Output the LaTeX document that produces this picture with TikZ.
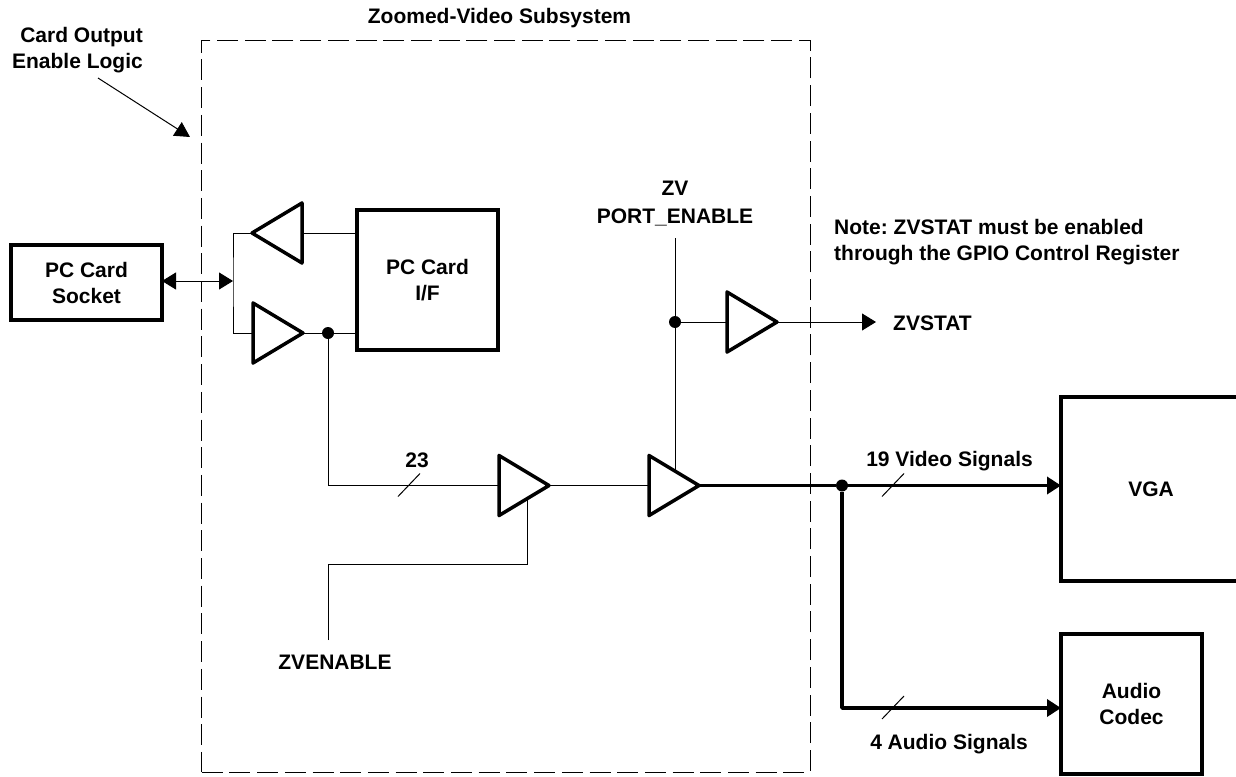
\documentclass[tikz,border=0pt]{standalone}
\usepackage{fontspec}
\setmainfont{Liberation Sans}
\usetikzlibrary{
  shapes.geometric,
  arrows.meta,
}
\newcommand{\labelfont}{\fontsize{21}{26}\selectfont\bfseries\frenchspacing}
\tikzset{
  wire/.style={line width=1pt},
  bus/.style={line width=3.8pt},
  solidtip/.style={-{Triangle[length=14pt,width=17pt]}},
  blockbox/.style={draw,line width=3.5pt,inner sep=0pt,outer sep=0pt,font=\labelfont,align=center},
  bufr/.style={draw,line width=3.5pt,line join=round,isosceles triangle,isosceles triangle stretches,
    minimum width=60pt,minimum height=50pt,inner sep=0pt,outer sep=0pt,anchor=apex},
  junct/.style={circle,fill=black,minimum size=12pt,inner sep=0pt},
  lbl/.style={font=\labelfont,align=center,inner sep=0pt},
}
\begin{document}
\begin{tikzpicture}[x=1pt,y=-1pt]
\useasboundingbox (0,0) rectangle (1236,776);
\node[draw,dash pattern=on 21pt off 6.7pt,dash phase=27pt,line width=1pt,minimum width=609pt,minimum height=731pt,inner sep=0pt] (subsys) at (505.5,406.5) {};
\node[blockbox,minimum width=151pt,minimum height=75pt] (socket) at (86.5,282.5) {PC Card\\Socket};
\node[blockbox,minimum width=141pt,minimum height=140pt] (cardif) at (427.5,280) {PC Card\\I/F};
\node[blockbox,minimum width=180pt,minimum height=184pt] (vga) at (1151,489) {VGA};
\node[blockbox,minimum width=141pt,minimum height=140pt] (codec) at (1131.5,704) {Audio\\Codec};
\node[bufr,shape border rotate=180] (bufout) at (252,233) {};
\node[bufr] (bufin) at (303,333) {};
\node[bufr] (bufzv) at (549,485.5) {};
\node[bufr] (bufport) at (699,485.5) {};
\node[bufr] (bufstat) at (777,322) {};
\node[junct] (jif) at (328,333) {};
\node[junct] (jport) at (675,322) {};
\node[junct] (jbus) at (842,485.5) {};
\coordinate (jleft) at (233,281);
\coordinate (portin) at (675,238);
\coordinate (portend) at (675,471);
\coordinate (zvin) at (328,640);
\coordinate (zvbend) at (527,564);
\coordinate (zvend) at (527,500);
\coordinate (statend) at (876,322);
\coordinate (logicstart) at (98,78);
\coordinate (logicend) at (190,137);
\coordinate (slashzv) at (409,485.5);
\coordinate (slashvid) at (893,485.5);
\coordinate (slashaud) at (893,708);
\draw[wire] (bufout.apex) -| (jleft) |- (bufin.west);
\draw[wire] (bufout.east) -- (bufout.east -| cardif.west);
\draw[wire] (bufin.apex) -- (jif) -- (jif -| cardif.west);
\draw[wire] (jif) |- (bufzv.west);
\draw[wire] (bufzv.apex) -- (bufport.west);
\draw[wire] (zvin) |- (zvbend) -- (zvend);
\draw[wire] (portin) -- (portend);
\draw[wire] (jport) -- (bufstat.west);
\draw[wire,solidtip] (bufstat.apex) -- (statend);
\draw[wire,{Triangle[length=14pt,width=17pt]}-{Triangle[length=14pt,width=17pt]}] (socket.east |- jleft) -- (jleft);
\draw[wire,-{Triangle[length=15pt,width=16pt]}] (logicstart) -- (logicend);
\draw[bus,solidtip] (bufport.apex) -- (jbus) -- (jbus -| vga.west);
\draw[bus,solidtip,line join=round] (jbus) |- (slashaud) -- (slashaud -| codec.west);
\foreach \n in {slashzv,slashvid,slashaud} {
  \draw[wire] (\n) ++(-11,11) -- ++(22,-23);
}
\node[lbl] (title) at (499.5,18) {Zoomed-Video Subsystem};
\node[lbl,align=right,anchor=east] (logic) at (143,50) {Card Output\\Enable Logic};
\node[lbl] (port) at (675,203.75) {ZV\\[1.5pt]PORT\_ENABLE};
\node[lbl,align=left,anchor=west] (note) at (834,242.5) {Note: ZVSTAT must be enabled\\through the GPIO Control Register};
\node[lbl,anchor=west] (zvstat) at (893,323) {ZVSTAT};
\node[lbl] (n23) at (417,460) {23};
\node[lbl] (video) at (949.5,461) {19 Video Signals};
\node[lbl] (audio) at (949,744) {4 Audio Signals};
\node[lbl] (zvenable) at (335,662) {ZVENABLE};
\end{tikzpicture}
\end{document}
